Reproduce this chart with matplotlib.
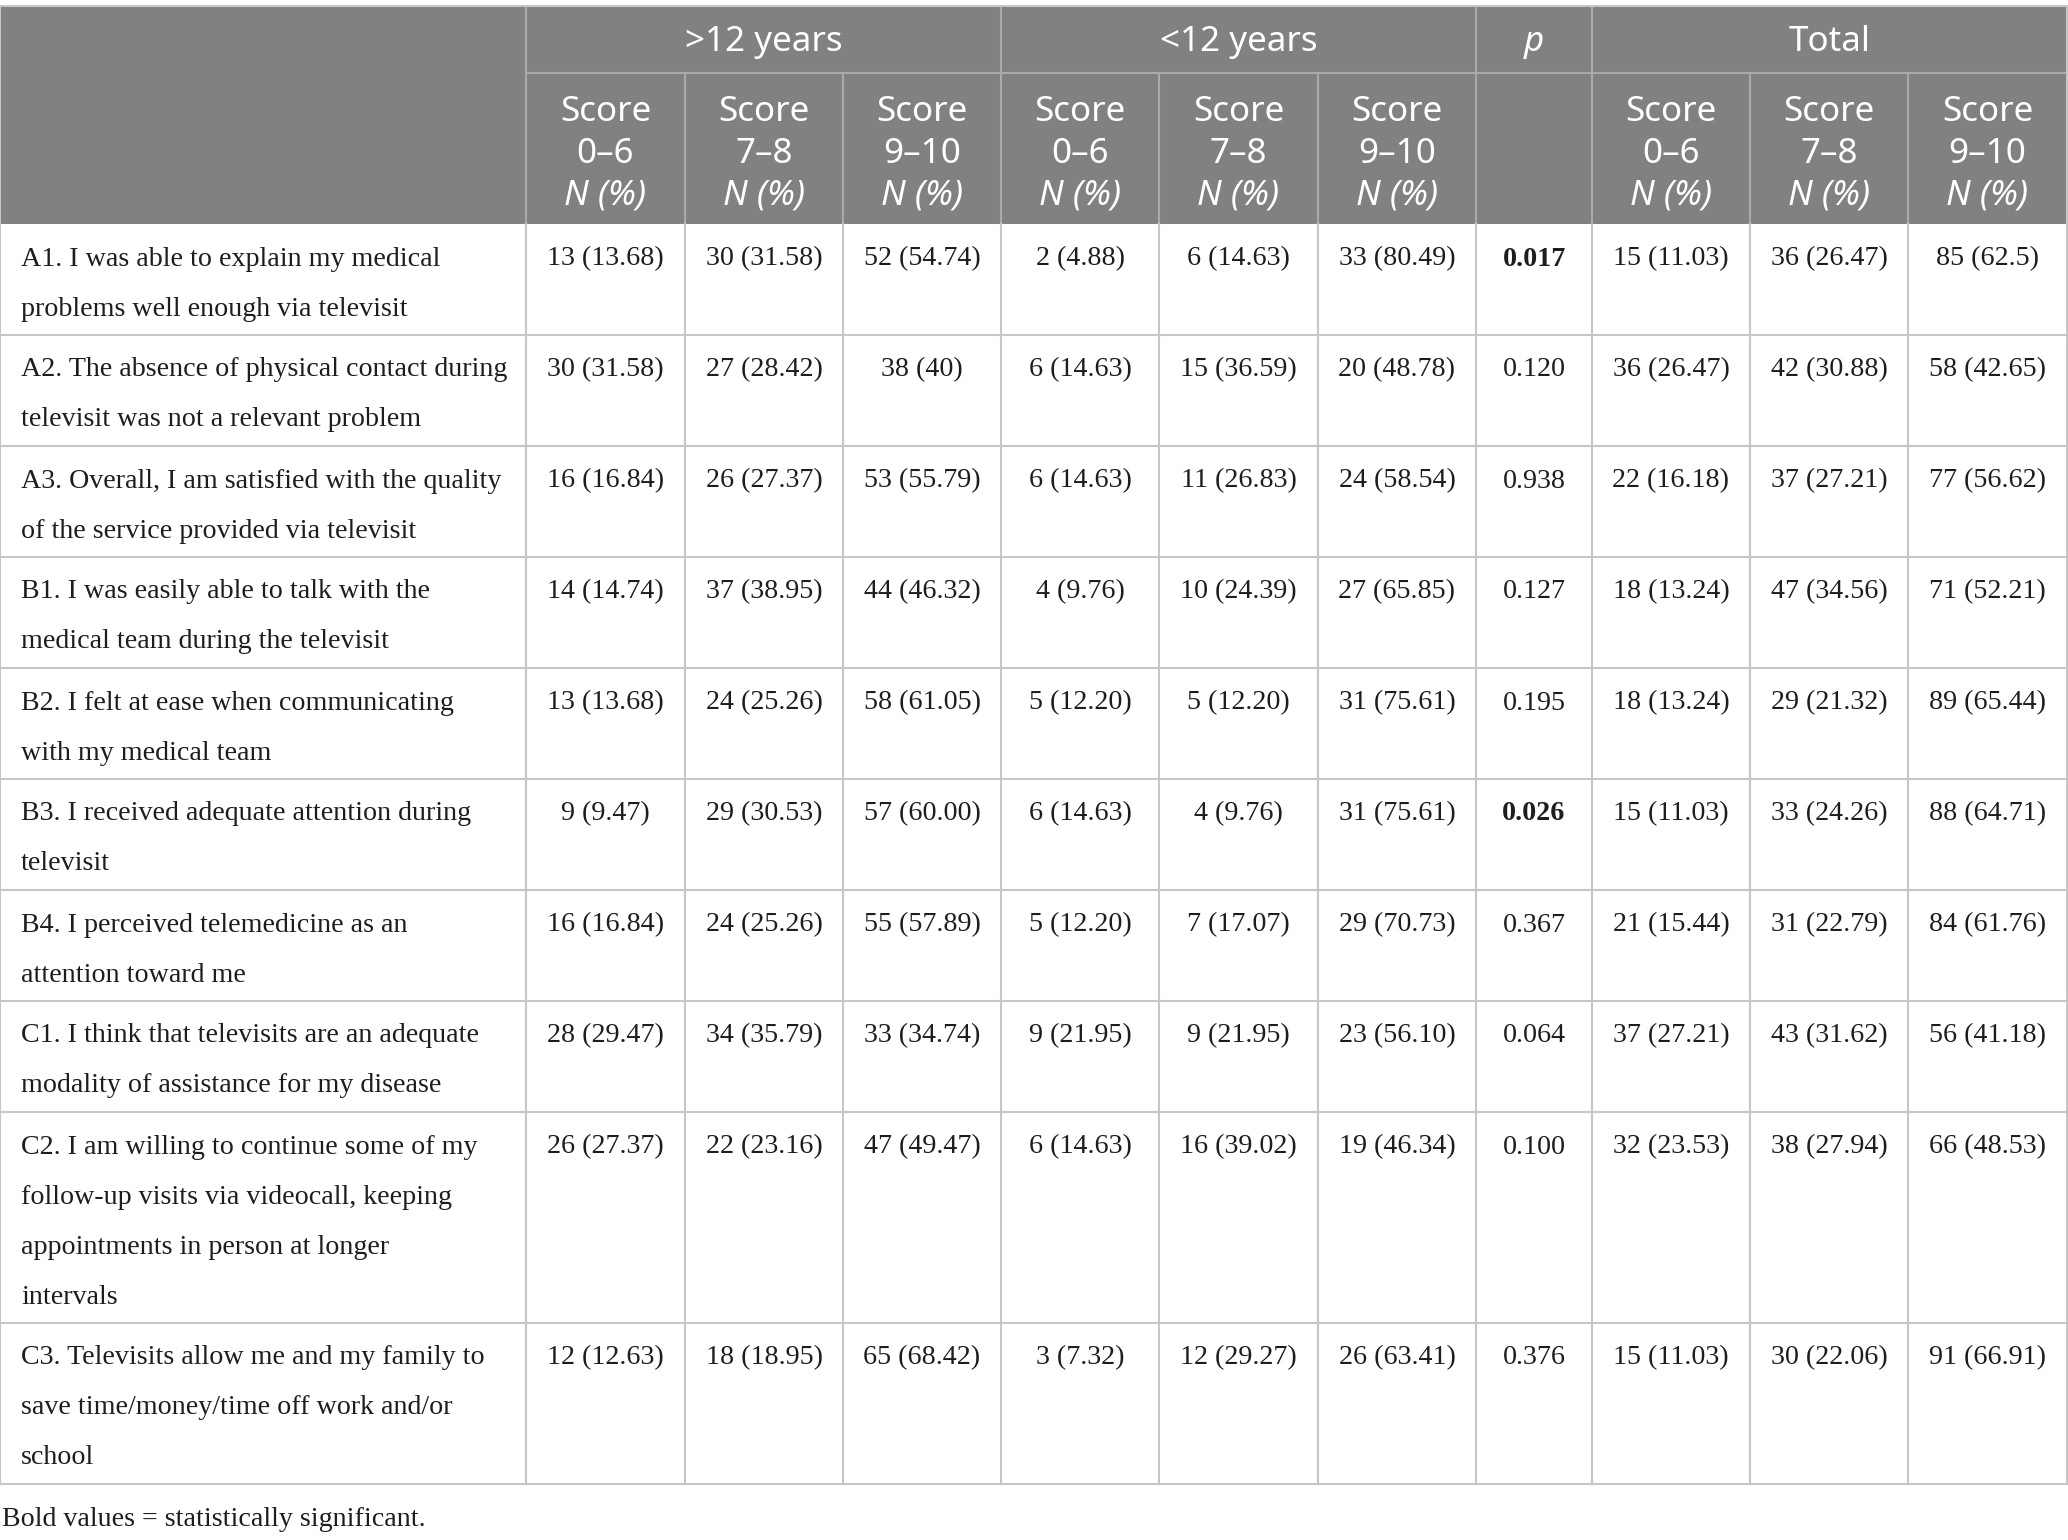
import matplotlib.pyplot as plt
from matplotlib.patches import Rectangle

# Table content
groups = [">12 years", "<12 years", "p", "Total"]
score_bands = ["0\u20136", "7\u20138", "9\u201310"]

items = [
    "A1. I was able to explain my medical\nproblems well enough via televisit",
    "A2. The absence of physical contact during\ntelevisit was not a relevant problem",
    "A3. Overall, I am satisfied with the quality\nof the service provided via televisit",
    "B1. I was easily able to talk with the\nmedical team during the televisit",
    "B2. I felt at ease when communicating\nwith my medical team",
    "B3. I received adequate attention during\ntelevisit",
    "B4. I perceived telemedicine as an\nattention toward me",
    "C1. I think that televisits are an adequate\nmodality of assistance for my disease",
    "C2. I am willing to continue some of my\nfollow-up visits via videocall, keeping\nappointments in person at longer\nintervals",
    "C3. Televisits allow me and my family to\nsave time/money/time off work and/or\nschool",
]

over12 = [
    ["13 (13.68)", "30 (31.58)", "52 (54.74)"],
    ["30 (31.58)", "27 (28.42)", "38 (40)"],
    ["16 (16.84)", "26 (27.37)", "53 (55.79)"],
    ["14 (14.74)", "37 (38.95)", "44 (46.32)"],
    ["13 (13.68)", "24 (25.26)", "58 (61.05)"],
    ["9 (9.47)", "29 (30.53)", "57 (60.00)"],
    ["16 (16.84)", "24 (25.26)", "55 (57.89)"],
    ["28 (29.47)", "34 (35.79)", "33 (34.74)"],
    ["26 (27.37)", "22 (23.16)", "47 (49.47)"],
    ["12 (12.63)", "18 (18.95)", "65 (68.42)"],
]

under12 = [
    ["2 (4.88)", "6 (14.63)", "33 (80.49)"],
    ["6 (14.63)", "15 (36.59)", "20 (48.78)"],
    ["6 (14.63)", "11 (26.83)", "24 (58.54)"],
    ["4 (9.76)", "10 (24.39)", "27 (65.85)"],
    ["5 (12.20)", "5 (12.20)", "31 (75.61)"],
    ["6 (14.63)", "4 (9.76)", "31 (75.61)"],
    ["5 (12.20)", "7 (17.07)", "29 (70.73)"],
    ["9 (21.95)", "9 (21.95)", "23 (56.10)"],
    ["6 (14.63)", "16 (39.02)", "19 (46.34)"],
    ["3 (7.32)", "12 (29.27)", "26 (63.41)"],
]

p_values = ["0.017", "0.120", "0.938", "0.127", "0.195",
            "0.026", "0.367", "0.064", "0.100", "0.376"]
significant = ["0.017", "0.026"]

total = [
    ["15 (11.03)", "36 (26.47)", "85 (62.5)"],
    ["36 (26.47)", "42 (30.88)", "58 (42.65)"],
    ["22 (16.18)", "37 (27.21)", "77 (56.62)"],
    ["18 (13.24)", "47 (34.56)", "71 (52.21)"],
    ["18 (13.24)", "29 (21.32)", "89 (65.44)"],
    ["15 (11.03)", "33 (24.26)", "88 (64.71)"],
    ["21 (15.44)", "31 (22.79)", "84 (61.76)"],
    ["37 (27.21)", "43 (31.62)", "56 (41.18)"],
    ["32 (23.53)", "38 (27.94)", "66 (48.53)"],
    ["15 (11.03)", "30 (22.06)", "91 (66.91)"],
]

footnote = "Bold values = statistically significant."

# Layout in pixels
W, H = 2068, 1540
col_x = [0, 526, 685, 843, 1001, 1159, 1318, 1476, 1592, 1750, 1908, 2067]
top = 6
head1 = 73
head2 = 224
line_h = 50
pad = 11

header_bg = "#808181"
head_line = "#a9aaaa"
grid = "#c6c6c6"
text_col = "#1f1c1d"
serif = "Liberation Serif"
sans = "Noto Sans"
body_fs = 28 * 0.72
head_fs = 35 * 0.72

fig = plt.figure(figsize=(W / 100, H / 100), dpi=100)
ax = fig.add_axes([0, 0, 1, 1])
ax.set_xlim(0, W)
ax.set_ylim(H, 0)
ax.axis("off")

# header background
ax.add_patch(Rectangle((col_x[0], top), col_x[-1] - col_x[0], head2 - top,
                       facecolor=header_bg, edgecolor="none"))

# group headers
spans = [(1, 4), (4, 7), (7, 8), (8, 11)]
for name, (a, b) in zip(groups, spans):
    cx = (col_x[a] + col_x[b]) / 2
    style = "italic" if name == "p" else "normal"
    ax.text(cx, 42, name, ha="center", va="center",
            color="white", fontsize=head_fs, family=sans, style=style)

# sub headers
sub_cols = [1, 2, 3, 4, 5, 6, 8, 9, 10]
for i, c in enumerate(sub_cols):
    cx = (col_x[c] + col_x[c + 1]) / 2
    band = score_bands[i % 3]
    ax.text(cx, 112, "Score", ha="center", va="center", color="white",
            fontsize=head_fs, family=sans)
    ax.text(cx, 154, band, ha="center", va="center", color="white",
            fontsize=head_fs, family=sans)
    ax.text(cx, 196, "N (%)", ha="center", va="center", color="white",
            fontsize=head_fs, family=sans, style="italic")

# header lines
ax.plot([col_x[1], col_x[-1]], [head1, head1], color=head_line, lw=1.5)
for c in range(1, len(col_x) - 1):
    if c in (1, 4, 7, 8, 11):
        ax.plot([col_x[c], col_x[c]], [top, head2], color=head_line, lw=1.5)
    else:
        ax.plot([col_x[c], col_x[c]], [head1, head2], color=head_line, lw=1.5)
ax.plot([col_x[0], col_x[-1]], [top, top], color=grid, lw=1.5)

# body rows
y = head2
for r, label in enumerate(items):
    n_lines = label.count("\n") + 1
    row_h = line_h * n_lines + pad
    first = y + 35
    for k, line in enumerate(label.split("\n")):
        ax.text(21, first + k * line_h, line, ha="left", va="center",
                fontsize=body_fs, family=serif, color=text_col)
    cells = over12[r] + under12[r] + [p_values[r]] + total[r]
    for c, val in enumerate(cells):
        cx = (col_x[c + 1] + col_x[c + 2]) / 2
        weight = "bold" if (c == 6 and val in significant) else "normal"
        ax.text(cx, first, val, ha="center", va="center", fontsize=body_fs,
                family=serif, color=text_col, weight=weight)
    y += row_h
    ax.plot([col_x[0], col_x[-1]], [y, y], color=grid, lw=1.5)
bottom = y

for c in range(len(col_x)):
    ax.plot([col_x[c], col_x[c]], [head2, bottom], color=grid, lw=1.5)
ax.plot([col_x[0], col_x[0]], [top, head2], color=grid, lw=1.5)
ax.plot([col_x[-1], col_x[-1]], [top, head2], color=grid, lw=1.5)

ax.text(2, bottom + 36, footnote, ha="left", va="center", fontsize=body_fs,
        family=serif, color=text_col)

fig.savefig("out.png", dpi=100)
